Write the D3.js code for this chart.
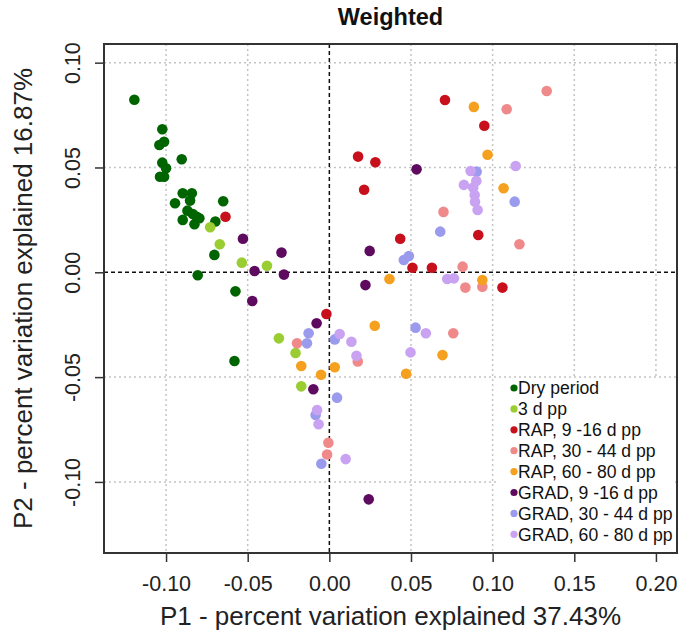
<!DOCTYPE html>
<html>
<head>
<meta charset="utf-8">
<script src="https://cdn.jsdelivr.net/npm/d3@7"></script>
<style>
  body { margin: 0; background: #fff; }
  svg { font-family: "Liberation Sans", Arial, sans-serif; }
</style>
</head>
<body>
<div id="chart"></div>
<script>
// Datos: [P1, P2]
const dryPeriod = [
  [-0.1194, 0.0823], [-0.1023, 0.0682], [-0.1041, 0.0607], [-0.1012, 0.0623],
  [-0.1023, 0.0523], [-0.1000, 0.0496], [-0.1037, 0.0456], [-0.1012, 0.0456],
  [-0.0904, 0.0539], [-0.0898, 0.0377], [-0.0842, 0.0377], [-0.0853, 0.0342],
  [-0.0945, 0.0329], [-0.0650, 0.0339], [-0.0869, 0.0294], [-0.0812, 0.0265],
  [-0.0836, 0.0278], [-0.0898, 0.0250], [-0.0826, 0.0229], [-0.0796, 0.0258],
  [-0.0698, 0.0242], [-0.0704, 0.0083], [-0.0806, -0.0014], [-0.0575, -0.0091],
  [-0.0581, -0.0423]
];
const pp3 = [
  [-0.0730, 0.0215], [-0.0671, 0.0134], [-0.0536, 0.0046], [-0.0382, 0.0031],
  [-0.0309, -0.0315], [-0.0207, -0.0385], [-0.0172, -0.0544]
];
const rap9 = [
  [-0.0636, 0.0265], [-0.0018, -0.0199], [0.0708, 0.0822], [0.0949, 0.0699],
  [0.0176, 0.0552], [0.0282, 0.0525], [0.0213, 0.0394], [0.0912, 0.0178],
  [0.0434, 0.0160], [0.0509, 0.0022], [0.0628, 0.0022], [0.1060, -0.0073]
];
const rap30 = [
  [-0.0198, -0.0339], [-0.0006, -0.0813], [-0.0014, -0.0869], [0.0174, -0.0425],
  [0.0759, -0.0291], [0.1086, 0.0778], [0.1331, 0.0865], [0.0699, 0.0288],
  [0.1164, 0.0134], [0.0816, 0.0027], [0.0833, -0.0073], [0.0937, -0.0069]
];
const rap60 = [
  [-0.0172, -0.0447], [-0.0051, -0.0489], [0.0033, -0.0453], [0.0278, -0.0255],
  [0.0693, -0.0395], [0.0470, -0.0484], [0.0885, 0.0789], [0.0969, 0.0561],
  [0.1067, 0.0401], [0.0368, -0.0032], [0.0937, -0.0037]
];
const grad9 = [
  [-0.0529, 0.0160], [-0.0293, 0.0094], [-0.0458, 0.0006], [-0.0278, -0.0011],
  [-0.0472, -0.0137], [-0.0078, -0.0243], [-0.0098, -0.0558], [0.0241, -0.1083],
  [0.0534, 0.0491], [0.0247, 0.0102], [0.0221, -0.0061]
];
const grad30 = [
  [-0.0127, -0.0291], [-0.0137, -0.0339], [-0.0049, -0.0913], [0.0033, -0.0320],
  [0.0047, -0.0598], [-0.0084, -0.0681], [0.0528, -0.0264], [0.0902, 0.0480],
  [0.1135, 0.0337], [0.0679, 0.0194], [0.0456, 0.0059], [0.0487, 0.0078]
];
const grad60 = [
  [0.0063, -0.0294], [-0.0075, -0.0657], [-0.0066, -0.0725], [0.0135, -0.0331],
  [0.0166, -0.0398], [0.0100, -0.0891], [0.0591, -0.0291], [0.0497, -0.0382],
  [0.1141, 0.0507], [0.0865, 0.0483], [0.0900, 0.0436], [0.0824, 0.0417],
  [0.0881, 0.0404], [0.0890, 0.0369], [0.0892, 0.0337], [0.0908, 0.0297],
  [0.0722, -0.0032], [0.0763, -0.0029]
];

const groupNames = ["Dry period", "3 d pp", "RAP, 9 -16 d pp", "RAP, 30 - 44 d pp",
  "RAP, 60 - 80 d pp", "GRAD, 9 -16 d pp", "GRAD, 30 - 44 d pp", "GRAD, 60 - 80 d pp"];
const groupColors = ["#006400", "#9ACD32", "#C8101C", "#F08A8A",
  "#F5A01E", "#5E0A5E", "#9B9BEE", "#C9A2F2"];
const groupData = [dryPeriod, pp3, rap9, rap30, rap60, grad9, grad30, grad60];

const xTicks = [-0.10, -0.05, 0.00, 0.05, 0.10, 0.15, 0.20];
const yTicks = [-0.10, -0.05, 0.00, 0.05, 0.10];

const W = 688, H = 640;
const box = { left: 104, right: 677, top: 44, bottom: 553 };

const svg = d3.select("#chart").append("svg")
  .attr("width", W).attr("height", H);

const x = d3.scaleLinear().domain([-0.138, 0.2129]).range([box.left, box.right]);
const y = d3.scaleLinear().domain([-0.1339, 0.1089]).range([box.bottom, box.top]);

// Rejilla punteada
const grid = svg.append("g");
grid.selectAll(".gx").data(xTicks.filter(d => d !== 0)).join("line")
  .attr("x1", d => x(d)).attr("x2", d => x(d))
  .attr("y1", box.top).attr("y2", box.bottom)
  .attr("stroke", "#c4c4c4").attr("stroke-width", 1.5).attr("stroke-dasharray", "2,3");
grid.selectAll(".gy").data(yTicks.filter(d => d !== 0)).join("line")
  .attr("y1", d => y(d)).attr("y2", d => y(d))
  .attr("x1", box.left).attr("x2", box.right)
  .attr("stroke", "#c4c4c4").attr("stroke-width", 1.5).attr("stroke-dasharray", "2,3");

// Lineas en cero
svg.append("line")
  .attr("x1", x(0)).attr("x2", x(0)).attr("y1", box.top).attr("y2", box.bottom)
  .attr("stroke", "#111").attr("stroke-width", 1.5).attr("stroke-dasharray", "4,3");
svg.append("line")
  .attr("x1", box.left).attr("x2", box.right).attr("y1", y(0)).attr("y2", y(0))
  .attr("stroke", "#111").attr("stroke-width", 1.5).attr("stroke-dasharray", "4,3");

// Puntos
groupData.forEach((pts, i) => {
  svg.append("g").selectAll("circle").data(pts).join("circle")
    .attr("cx", d => x(d[0]))
    .attr("cy", d => y(d[1]))
    .attr("r", 5.3)
    .attr("fill", groupColors[i]);
});

// Ejes
const xAxis = svg.append("g")
  .attr("transform", `translate(0, ${box.bottom})`)
  .call(d3.axisBottom(x).tickValues(xTicks).tickSize(9).tickFormat(d => d.toFixed(2)));
xAxis.select(".domain").remove();
xAxis.selectAll("line").attr("stroke", "#333").attr("stroke-width", 1.5);
xAxis.selectAll("text")
  .attr("y", 38).attr("dy", 0)
  .style("font-size", "21.5px").attr("fill", "#222");

const yAxis = svg.append("g")
  .attr("transform", `translate(${box.left}, 0)`)
  .call(d3.axisLeft(y).tickValues(yTicks).tickSize(9).tickFormat(d => d.toFixed(2)));
yAxis.select(".domain").remove();
yAxis.selectAll("line").attr("stroke", "#333").attr("stroke-width", 1.5);
yAxis.selectAll("text")
  .attr("transform", "rotate(-90)")
  .attr("x", 0).attr("y", -24).attr("dy", 0)
  .attr("text-anchor", "middle")
  .style("font-size", "21.5px").attr("fill", "#222");

// Marco del grafico
svg.append("rect")
  .attr("x", box.left).attr("y", box.top)
  .attr("width", box.right - box.left).attr("height", box.bottom - box.top)
  .attr("fill", "none").attr("stroke", "#333").attr("stroke-width", 2);

// Leyenda con fondo blanco
const legend = svg.append("g");
legend.append("rect")
  .attr("x", 497).attr("y", 379).attr("width", 178).attr("height", 172)
  .attr("fill", "#fff");
groupNames.forEach((name, i) => {
  const ly = 388 + i * 20.9;
  legend.append("circle").attr("cx", 514).attr("cy", ly).attr("r", 3.6).attr("fill", groupColors[i]);
  legend.append("text").attr("x", 518).attr("y", ly + 6.3)
    .style("font-size", "17.6px").attr("fill", "#111").text(name);
});

// Titulos
svg.append("text")
  .attr("x", (box.left + box.right) / 2).attr("y", 25)
  .attr("text-anchor", "middle")
  .style("font-size", "23.5px").style("font-weight", "bold").attr("fill", "#111")
  .text("Weighted");

svg.append("text")
  .attr("x", (box.left + box.right) / 2).attr("y", 625)
  .attr("text-anchor", "middle")
  .style("font-size", "26px").attr("fill", "#222")
  .text("P1 - percent variation explained 37.43%");

svg.append("text")
  .attr("transform", `translate(32, ${(box.top + box.bottom) / 2}) rotate(-90)`)
  .attr("text-anchor", "middle")
  .style("font-size", "26px").attr("fill", "#222")
  .text("P2 - percent variation explained 16.87%");
</script>
</body>
</html>
